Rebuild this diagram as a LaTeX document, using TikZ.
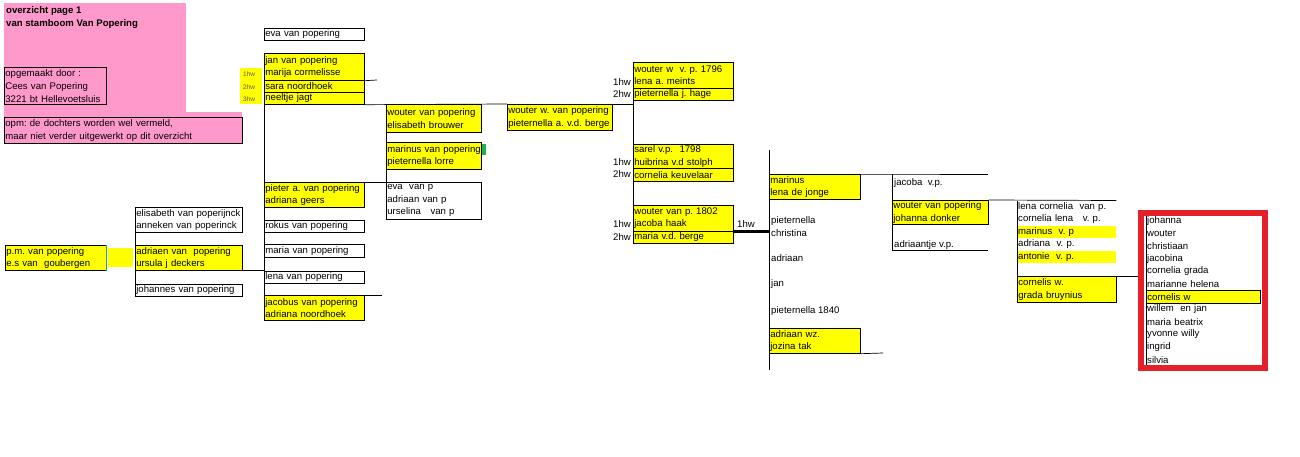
\documentclass[tikz,border=0pt]{standalone}
\usepackage{fontspec}
\setmainfont{Liberation Sans}
\frenchspacing
\definecolor{geelkleur}{HTML}{FFFF00}
\definecolor{roze}{HTML}{FF99CC}
\definecolor{rood}{HTML}{E4202A}
\definecolor{groen}{HTML}{22B14C}
\newcommand\celfont{\fontsize{9.6}{12.5}\selectfont}
\tikzset{
  cel/.style={draw=black, line width=0.7pt, anchor=north west, inner xsep=1pt, inner ysep=0pt, align=left, font=\celfont},
  geel/.style={cel, fill=geelkleur},
  los/.style={anchor=west, inner xsep=1pt, inner ysep=0pt, align=left, font=\celfont},
  rij/.style={anchor=north west, inner xsep=1pt, inner ysep=0pt, minimum height=12.6pt, text width=112pt, font=\celfont},
  lijn/.style={draw=black, line width=0.7pt},
  hwlabel/.style={anchor=east, inner sep=0pt, font=\celfont},
  hwklein/.style={anchor=west, inner sep=0pt, text=black!65, font=\fontsize{6.5}{7}\selectfont},
}
\begin{document}
\begin{tikzpicture}[x=1pt, y=-1pt]
  \useasboundingbox (0,0) rectangle (1300,457);
  % kop
  \fill[roze] (4,3) rectangle (186,113);
  \fill[roze] (4,112) rectangle (242,143);
  \node[anchor=north west, inner sep=0pt, align=left, font=\bfseries\fontsize{9.6}{13}\selectfont] (titel) at (6,6) {overzicht page 1\\van stamboom Van Popering};
  \node[cel, font=\fontsize{9.6}{13}\selectfont, minimum height=37pt, text width=100pt] (maker) at (4,67) {opgemaakt door :\\Cees van Popering\\3221 bt Hellevoetsluis};
  \node[cel, minimum height=26pt, text width=236pt] (opm) at (4,117) {opm: de dochters worden wel vermeld,\\maar niet verder uitgewerkt op dit overzicht};
  \fill[geelkleur] (240,68) rectangle (262,104);
  \node[hwklein] (hwa) at (243,74) {1hw};
  \node[hwklein] (hwb) at (243,87) {2hw};
  \node[hwklein] (hwc) at (243,99) {3hw};

  % kolom 1
  \node[geel, minimum height=25pt, text width=99pt] (pm) at (5,245) {p.m. van popering\\e.s van\ \ goubergen};
  \draw[groen, line width=1.2pt] (pm.north east) -- (pm.south east);
  \node[fill=geelkleur, anchor=north west, minimum width=25pt, minimum height=19pt, inner sep=0pt] (pmvak) at (108,248) {};
  \node[cel, minimum height=25pt, text width=105pt] (elisabeth) at (135,207) {elisabeth van poperijnck\\anneken van poperinck};
  \node[geel, minimum height=25pt, text width=105pt] (adriaen) at (135,245) {adriaen van\ \ popering\\ursula j deckers};
  \node[cel, minimum height=12pt, text width=105pt] (johannes) at (135,284) {johannes van popering};
  \draw[lijn] (elisabeth.south west) -- (johannes.north west);

  % kolom 2
  \node[cel, minimum height=12pt, text width=98pt] (eva) at (264,28) {eva van popering};
  \node[geel, minimum height=27pt, text width=98pt] (jan) at (264,53) {jan van popering\\marija cormelisse};
  \node[geel, minimum height=12pt, text width=98pt] (sara) at (264,80) {sara noordhoek};
  \node[geel, minimum height=12pt, text width=98pt] (neeltje) at (264,92) {neeltje jagt};
  \node[geel, minimum height=25pt, text width=98pt] (pieter) at (264,182) {pieter a. van popering\\adriana geers};
  \node[cel, minimum height=12pt, text width=98pt] (rokus) at (264,220) {rokus van popering};
  \node[cel, minimum height=13pt, text width=98pt] (maria) at (264,244) {maria van popering};
  \node[cel, minimum height=12pt, text width=98pt] (lena) at (264,271) {lena van popering};
  \node[geel, minimum height=25pt, text width=98pt] (jacobus) at (264,295) {jacobus van popering\\adriana noordhoek};
  \draw[lijn] (jan.north west) -- (jacobus.south west);
  \draw[lijn] (adriaen.south east) -- (adriaen.south east -| jan.west);
  \coordinate (januit) at (377,80);
  \draw[lijn] (jan.south east) -- (januit);
  \coordinate (jacuit) at (382,295);
  \draw[lijn] (jacobus.north east) -- (jacuit);

  % kolom 3
  \node[geel, minimum height=28pt, text width=93pt] (wouter) at (386,104) {wouter van popering\\elisabeth brouwer};
  \node[geel, minimum height=27pt, text width=93pt] (marinus) at (386,142) {\mbox{marinus van popering}\\pieternella lorre};
  \fill[groen] ([yshift=-2pt]marinus.north east) rectangle ++(4,11);
  \node[cel, minimum height=37pt, text width=93pt] (evap) at (386,182) {eva\ \ van p\\adriaan van p\\urselina\ \ \ van p};
  \draw[lijn] (wouter.north west) -- (evap.south west);
  \draw[lijn] (pieter.north west) -- (evap.north west);
  \node[geel, minimum height=26pt, text width=103pt] (wouterw) at (507,104) {wouter w. van popering\\pieternella a. v.d. berge};
  \draw[lijn] (neeltje.south east) -- (wouterw.north west);

  % kolom 4
  \node[geel, minimum height=26pt, text width=98pt] (w96) at (633,62) {wouter w\ \ v. p. 1796\\lena a. meints};
  \node[geel, minimum height=12pt, text width=98pt] (hage) at (633,88) {pieternella j. hage};
  \node[geel, minimum height=24pt, text width=98pt] (sarel) at (633,144) {sarel v.p.\ \ 1798\\huibrina v.d stolph};
  \node[geel, minimum height=13pt, text width=98pt] (keuv) at (633,168) {cornelia keuvelaar};
  \node[geel, minimum height=26pt, text width=98pt] (w02) at (633,205) {wouter van p. 1802\\jacoba haak};
  \node[geel, minimum height=12pt, text width=98pt] (berge) at (633,231) {maria v.d. berge};
  \draw[lijn] (w96.north west) -- (berge.south west);
  \draw[lijn] (wouterw.north east) -- (wouterw.north east -| w96.west);
  \node[hwlabel] (hw96a) at (631,82) {1hw};
  \node[hwlabel] (hw96b) at (631,94) {2hw};
  \node[hwlabel] (hw98a) at (631,162.5) {1hw};
  \node[hwlabel] (hw98b) at (631,174.5) {2hw};
  \node[hwlabel] (hw02a) at (631,224.5) {1hw};
  \node[hwlabel] (hw02b) at (631,237) {2hw};
  \node[los] (hwdik) at (736,224.5) {1hw};
  \coordinate (dikuit) at (769,231);
  \draw[line width=3pt] (berge.north east) -- (dikuit);

  % kolom 5
  \coordinate (b5top) at (769,150);
  \coordinate (b5bot) at (769,370);
  \draw[lijn] (b5top) -- (b5bot);
  \node[geel, minimum height=25pt, text width=89pt] (marlena) at (769,174) {marinus\\lena de jonge};
  \node[los] (pietchr) at (770,226.5) {pieternella\\christina};
  \node[los] (adriaan) at (770,258) {adriaan};
  \node[los] (jan2) at (770,284) {jan};
  \node[los] (piet40) at (770,311) {pieternella 1840};
  \node[geel, minimum height=25pt, text width=89pt] (adwz) at (769,328) {adriaan wz.\\jozina tak};
  \coordinate (adwzuit) at (883,353);
  \draw[lijn] (adwz.south east) -- (adwzuit);
  \coordinate (b6top) at (892,174);
  \coordinate (b6bot) at (892,250);
  \coordinate (b6uit) at (988,174);
  \coordinate (adruit) at (988,250);
  \draw[lijn] (marlena.north east) -- (b6top) -- (b6uit);
  \draw[lijn] (b6top) -- (b6bot) -- (adruit);
  \node[los] (jacoba) at (893,183) {jacoba\ \ v.p.};
  \node[geel, minimum height=24pt, text width=94pt] (donker) at (892,200) {wouter van popering\\johanna donker};
  \node[los] (adriaantje) at (893,245) {adriaantje v.p.};

  % kolom 6
  \node[rij, text width=97pt] (lenac) at (1017,200.5) {lena cornelia\ \ van p.};
  \node[rij, text width=97pt] (corlena) at (1017,213) {cornelia lena\ \ \ v. p.};
  \node[rij, text width=97pt, fill=geelkleur] (marvp) at (1017,225.5) {marinus\ \ v. p};
  \node[rij, text width=97pt] (adrvp) at (1017,238) {adriana\ \ v. p.};
  \node[rij, text width=97pt, fill=geelkleur] (antvp) at (1017,250.5) {antonie\ \ v. p.};
  \node[geel, minimum height=26pt, text width=97pt] (cornw) at (1017,276) {cornelis w.\\grada bruynius};
  \draw[lijn] (donker.north east) -- (lenac.north east);
  \draw[lijn] (lenac.north west) -- (cornw.south west);

  % kolom 7
  \node[rij] (johanna) at (1146,214.5) {johanna};
  \node[rij] (wouter2) at (1146,227.1) {wouter};
  \node[rij] (christiaan) at (1146,239.7) {christiaan};
  \node[rij] (jacobina) at (1146,252.3) {jacobina};
  \node[rij] (corgrada) at (1146,264.9) {cornelia grada};
  \node[rij] (marianne) at (1146,277.5) {marianne helena};
  \node[rij, draw=black, line width=0.7pt, fill=geelkleur] (cornwk) at (1146,290.1) {cornelis w};
  \node[rij] (willem) at (1146,302.7) {willem\ \ en jan};
  \node[rij] (beatrix) at (1146,315.3) {maria beatrix};
  \node[rij] (yvonne) at (1146,327.9) {yvonne willy};
  \node[rij] (ingrid) at (1146,340.5) {ingrid};
  \node[rij] (silvia) at (1146,353.1) {silvia};
  \draw[lijn] (johanna.north west) -- (silvia.south west);
  \node[draw=rood, line width=6pt, anchor=north west, minimum width=124pt, minimum height=155pt, inner sep=0pt] (roodkader) at (1138,210) {};
  \draw[lijn] (cornw.north east) -- (cornw.north east -| roodkader.west);
\end{tikzpicture}
\end{document}
